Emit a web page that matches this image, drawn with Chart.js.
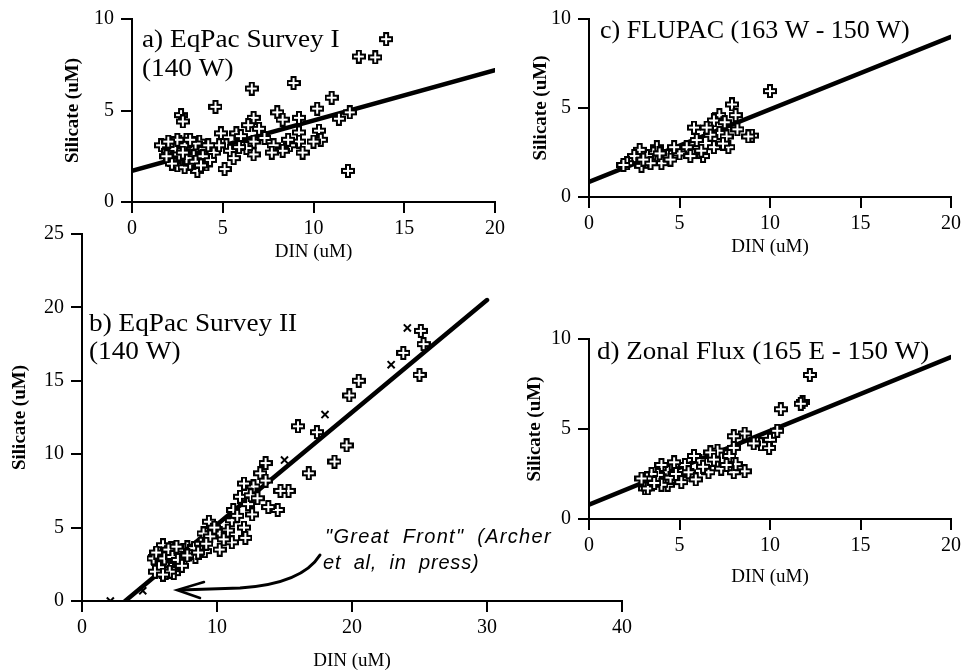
<!DOCTYPE html>
<html>
<head>
<meta charset="utf-8">
<script src="https://cdn.jsdelivr.net/npm/chart.js@4/dist/chart.umd.min.js"></script>
<style>
  html, body { margin: 0; padding: 0; background: #fff; }
  body { width: 971px; height: 672px; position: relative; overflow: hidden; }
  .p { position: absolute; }
</style>
</head>
<body>
<div class="p" style="left:0px;top:0px;width:520px;height:275px"><canvas id="ca"></canvas></div>
<div class="p" style="left:0px;top:215px;width:650px;height:457px"><canvas id="cb"></canvas></div>
<div class="p" style="left:480px;top:0px;width:491px;height:275px"><canvas id="cc"></canvas></div>
<div class="p" style="left:480px;top:320px;width:491px;height:280px"><canvas id="cd"></canvas></div>
<script>
// ---------------- DATA ----------------
// Panel a) EqPac Survey I (140 W)
const aDIN = [14.0,12.5,13.4,8.9,6.6,4.6,2.7,2.8,11.0,10.2,12.0,11.4,11.9,8.0,8.3,9.2,6.7,6.4,7.0,4.9,5.75,10.3,10.4,10.0,9.2,9.2,9.4,8.7,7.8,8.3,7.7,6.7,6.7,6.3,5.2,5.4,5.6,5.1,3.7,3.7,3.6,4.1,1.6,4.5,4.8,8.6,7.3,6.0,5.9,
  2.0,2.2,2.3,2.5,2.6,2.7,2.8,2.9,3.0,3.1,3.2,3.3,2.4,2.9,3.4,2.1,3.0,2.6,3.5,4.0,4.3,3.9,
  2.2,2.5,2.8,3.2,3.5,3.8,4.2,2.0,1.9];
const aSi  = [8.9,7.95,7.9,6.5,6.2,5.2,4.75,4.4,5.7,5.1,4.9,4.55,1.7,4.9,4.5,4.6,4.6,4.2,4.0,3.75,3.75,3.9,3.4,3.3,3.8,3.3,2.7,3.1,3.1,2.8,2.7,3.3,2.6,2.95,3.1,2.8,2.4,1.8,3.3,2.0,1.7,2.05,3.1,2.7,3.1,3.4,3.5,3.6,3.0,
  2.8,3.2,2.5,2.0,3.3,2.9,2.3,1.9,3.4,2.7,2.1,3.0,2.9,3.1,2.5,2.3,2.4,2.6,3.2,2.9,2.3,2.5,
  2.1,3.4,2.7,3.4,2.2,2.0,3.1,3.3,2.5];
const aFitDIN = [0, 20];
const aFitSi  = [1.7, 7.2];

// Panel b) EqPac Survey II (140 W)
const bDIN = [25.1,25.3,25.0,23.8,20.5,19.8,19.6,18.7,17.4,16.0,16.8,15.3,14.5,14.7,13.8,13.6,13.2,13.6,12.7,12.0,11.7,12.3,12.6,11.2,11.1,10.8,12.0,12.1,11.1,10.2,10.2,9.4,9.0,9.1,8.4,7.8,7.2,6.6,5.4,5.8,
  5.8,6.0,6.2,6.5,6.3,6.8,7.0,7.3,6.0,5.6,6.6,7.5,8.0,7.0,6.2,5.9,6.8,7.2,7.6,8.3,8.8,9.5,9.8,10.5,11.5,12.5,13.0,
  5.3,5.5,5.7,6.1,6.4,6.7,7.1,6.5,7.4,5.4,6.0,7.8,8.6,9.2,7.0];
const bSi  = [18.4,17.5,15.4,16.9,15.0,14.0,10.6,9.5,11.5,11.9,8.7,7.5,6.2,7.5,6.4,9.4,8.7,8.2,7.8,8.0,7.1,6.6,5.9,6.2,5.5,4.8,5.0,4.3,4.0,4.6,3.5,5.4,4.6,3.4,3.0,3.65,3.4,3.2,3.0,2.2,
  3.5,3.8,3.2,2.8,2.2,2.5,3.0,3.3,2.5,2.6,3.6,3.5,3.4,2.2,1.9,2.0,1.9,2.6,2.9,3.6,3.9,4.4,5.0,4.2,5.8,7.2,7.0,
  2.9,3.3,2.3,2.9,3.5,3.0,2.8,2.0,2.4,2.0,1.8,3.1,3.3,3.9,3.7];
const bxDIN = [2.1,4.5,18.0,15.0,22.9,24.1];
const bxSi  = [0.0,0.7,12.7,9.6,16.1,18.6];
const bFitDIN = [3.2, 30];
const bFitSi  = [0, 20.5];

// Panel c) FLUPAC (163 W - 150 W)
const cDIN = [10.0,9.0,8.8,7.9,8.1,8.2,7.7,7.2,6.9,7.2,7.6,6.7,6.9,6.3,5.8,5.95,5.4,5.0,4.7,4.3,4.0,3.75,3.55,3.2,2.8,2.5,2.1,2.9,1.9,3.4,3.9,7.5,6.5,6.2,5.6,4.5,3.0,7.4];
const cSi  = [5.95,3.45,3.4,5.2,4.6,3.8,2.8,4.6,4.3,3.6,3.4,3.5,2.8,2.3,3.9,3.2,2.8,2.45,2.8,2.3,1.9,2.8,2.45,2.3,2.65,2.3,1.9,1.75,1.8,1.9,2.45,4.2,3.9,2.6,2.3,2.1,2.1,3.0];
const cFitDIN = [0, 20];
const cFitSi  = [0.85, 9.0];

// Panel d) Zonal Flux (165 E - 150 W)
const dDIN = [12.2,11.8,11.7,10.6,10.4,10.0,9.95,9.5,9.1,8.6,8.0,8.0,8.6,8.0,8.1,7.75,7.1,6.7,6.9,7.3,6.6,6.1,5.8,5.65,5.3,5.1,4.7,4.35,4.0,3.8,4.35,4.0,3.45,3.2,3.1,2.9,3.25,4.5,5.5,6.3,3.6,4.8,5.9,7.6];
const dSi  = [8.0,6.5,6.4,6.1,4.9,4.4,3.95,4.15,4.2,4.75,4.6,3.95,2.65,2.6,3.05,3.5,3.8,3.7,3.3,2.8,2.6,3.25,3.5,2.45,3.0,2.05,3.15,2.6,3.0,2.45,1.9,1.9,2.5,2.25,1.7,2.25,1.7,2.3,2.6,2.9,2.0,2.5,2.2,3.0];
const dFitDIN = [0, 20];
const dFitSi  = [0.8, 9.0];

const xTicksSmall = [0, 5, 10, 15, 20];
const yTicksSmall = [0, 5, 10];
const xTicksB = [0, 10, 20, 30, 40];
const yTicksB = [0, 5, 10, 15, 20, 25];

const xTitle = 'DIN (uM)';
const yTitle = 'Silicate (uM)';
const titleA = ['a) EqPac Survey I', '(140 W)'];
const titleB = ['b) EqPac Survey II', '(140 W)'];
const titleC = ['c) FLUPAC (163 W - 150 W)'];
const titleD = ['d) Zonal Flux (165 E - 150 W)'];
const noteB = ['"Great Front" (Archer', 'et al, in press)'];

// ---------------- RENDERING ----------------
const SERIF = '"Liberation Serif", "Times New Roman", serif';
const SANS = '"Liberation Sans", Arial, sans-serif';

function makeCrossMarker() {
  const c = document.createElement('canvas');
  c.width = 14; c.height = 14;
  const g = c.getContext('2d');
  g.fillStyle = '#000';
  g.fillRect(4, 0, 6, 14);
  g.fillRect(0, 4, 14, 6);
  g.fillStyle = '#fff';
  g.fillRect(6, 2, 2, 10);
  g.fillRect(2, 6, 10, 2);
  return c;
}
const crossMarker = makeCrossMarker();

function pts(xs, ys) { return xs.map((x, i) => ({ x: x, y: ys[i] })); }

function stretchedText(ctx, text, x, y, sx) {
  ctx.save();
  ctx.translate(x, y);
  ctx.scale(sx, 1);
  ctx.fillText(text, 0, 0);
  ctx.restore();
}

// box: canvas box (page coords); area: chart area (page coords)
function panel(canvasId, box, area, spec) {
  const yFont = 19, xFont = 19, tickFont = 20;
  const yLH = yFont * 1.2;
  const padLeft = spec.yTitleX - box.x - yLH / 2;
  const yAxisW = area.L - box.x - padLeft;
  const xAxisH = box.y + box.h - area.B;
  const xLH = xFont * 1.2;
  const xTitlePad = (box.y + box.h - spec.xTitleY) - xLH / 2;

  const datasets = [
    { data: pts(spec.xs, spec.ys), pointStyle: crossMarker, pointRadius: 7, showLine: false }
  ];
  if (spec.xx) {
    datasets.push({ data: pts(spec.xx, spec.xy), pointStyle: 'crossRot', pointRadius: 5,
      borderColor: '#000', borderWidth: 2, showLine: false });
  }
  datasets.push({ data: pts(spec.fitX, spec.fitY), showLine: true, pointRadius: 0,
    borderColor: '#000', borderWidth: 4.5, borderCapStyle: 'round' });

  const labelsPlugin = {
    id: 'labels_' + canvasId,
    afterDatasetsDraw(chart) {
      const ctx = chart.ctx;
      ctx.save();
      ctx.fillStyle = '#000';
      ctx.textBaseline = 'middle';
      ctx.textAlign = 'left';
      ctx.font = '25px ' + SERIF;
      spec.title.forEach((t, i) => {
        stretchedText(ctx, t, spec.titlePos[0] - box.x, spec.titlePos[1] - box.y + i * spec.titleGap, spec.titleSX);
      });
      if (spec.note) {
        ctx.font = 'italic 20px ' + SANS;
        if ('wordSpacing' in ctx) ctx.wordSpacing = '6px';
        if ('letterSpacing' in ctx) ctx.letterSpacing = '1.3px';
        ctx.fillText(spec.note[0], 325 - box.x, 537 - box.y);
        if ('letterSpacing' in ctx) ctx.letterSpacing = '0.8px';
        ctx.fillText(spec.note[1], 323 - box.x, 563 - box.y);
        if ('wordSpacing' in ctx) ctx.wordSpacing = '0px';
        if ('letterSpacing' in ctx) ctx.letterSpacing = '0px';
        ctx.strokeStyle = '#000';
        ctx.lineWidth = 3;
        ctx.lineCap = 'round';
        ctx.beginPath();
        ctx.moveTo(320 - box.x, 555 - box.y);
        ctx.quadraticCurveTo(302 - box.x, 584 - box.y, 240 - box.x, 588 - box.y);
        ctx.lineTo(180 - box.x, 590 - box.y);
        ctx.stroke();
        ctx.lineWidth = 2.5;
        ctx.beginPath();
        ctx.moveTo(204 - box.x, 582 - box.y);
        ctx.lineTo(177 - box.x, 590 - box.y);
        ctx.lineTo(200 - box.x, 598 - box.y);
        ctx.stroke();
      }
      ctx.restore();
    }
  };

  const axisCommon = {
    type: 'linear',
    grid: { display: true, drawOnChartArea: false, drawTicks: true, tickLength: 11, color: '#000', lineWidth: 2 },
    border: { display: true, color: '#000', width: 2 },
  };

  return new Chart(document.getElementById(canvasId), {
    type: 'scatter',
    data: { datasets: datasets },
    options: {
      responsive: true,
      maintainAspectRatio: false,
      animation: false,
      events: [],
      layout: { padding: { left: padLeft, top: area.T - box.y, right: box.x + box.w - area.R, bottom: 0 } },
      plugins: { legend: { display: false }, tooltip: { enabled: false } },
      scales: {
        x: Object.assign({}, axisCommon, {
          min: spec.xTicks[0], max: spec.xTicks[spec.xTicks.length - 1],
          afterBuildTicks: (s) => { s.ticks = spec.xTicks.map(v => ({ value: v })); },
          afterFit: (s) => { s.height = xAxisH; },
          ticks: { color: '#000', font: { family: SERIF, size: tickFont }, padding: 4, maxRotation: 0, autoSkip: false },
          title: { display: true, text: xTitle, color: '#000', font: { family: SERIF, size: xFont }, padding: { top: 0, bottom: xTitlePad } }
        }),
        y: Object.assign({}, axisCommon, {
          min: spec.yTicks[0], max: spec.yTicks[spec.yTicks.length - 1],
          afterBuildTicks: (s) => { s.ticks = spec.yTicks.map(v => ({ value: v })); },
          afterFit: (s) => { s.width = yAxisW; },
          ticks: { color: '#000', font: { family: SERIF, size: tickFont }, padding: 7, autoSkip: false },
          title: { display: true, text: yTitle, color: '#000', font: { family: SERIF, size: yFont, weight: 'bold' }, padding: 0 }
        })
      }
    },
    plugins: [labelsPlugin]
  });
}

panel('ca', { x: 0, y: 0, w: 520, h: 275 }, { L: 132, T: 15, R: 495, B: 202 }, {
  xs: aDIN, ys: aSi, fitX: aFitDIN, fitY: aFitSi,
  xTicks: xTicksSmall, yTicks: yTicksSmall,
  yTitleX: 73, xTitleY: 252,
  title: titleA, titlePos: [142, 40], titleGap: 29, titleSX: 1.09
});
panel('cb', { x: 0, y: 215, w: 650, h: 457 }, { L: 82, T: 232, R: 622, B: 601 }, {
  xs: bDIN, ys: bSi, xx: bxDIN, xy: bxSi, fitX: bFitDIN, fitY: bFitSi,
  xTicks: xTicksB, yTicks: yTicksB,
  yTitleX: 20, xTitleY: 661,
  title: titleB, titlePos: [89, 324], titleGap: 28, titleSX: 1.09,
  note: noteB
});
panel('cc', { x: 480, y: 0, w: 491, h: 275 }, { L: 589, T: 15, R: 951, B: 197 }, {
  xs: cDIN, ys: cSi, fitX: cFitDIN, fitY: cFitSi,
  xTicks: xTicksSmall, yTicks: yTicksSmall,
  yTitleX: 541, xTitleY: 247,
  title: titleC, titlePos: [600, 31], titleGap: 30, titleSX: 1.04
});
panel('cd', { x: 480, y: 320, w: 491, h: 280 }, { L: 589, T: 334, R: 951, B: 519 }, {
  xs: dDIN, ys: dSi, fitX: dFitDIN, fitY: dFitSi,
  xTicks: xTicksSmall, yTicks: yTicksSmall,
  yTitleX: 535, xTitleY: 577,
  title: titleD, titlePos: [597, 352], titleGap: 30, titleSX: 1.08
});
</script>
</body>
</html>
